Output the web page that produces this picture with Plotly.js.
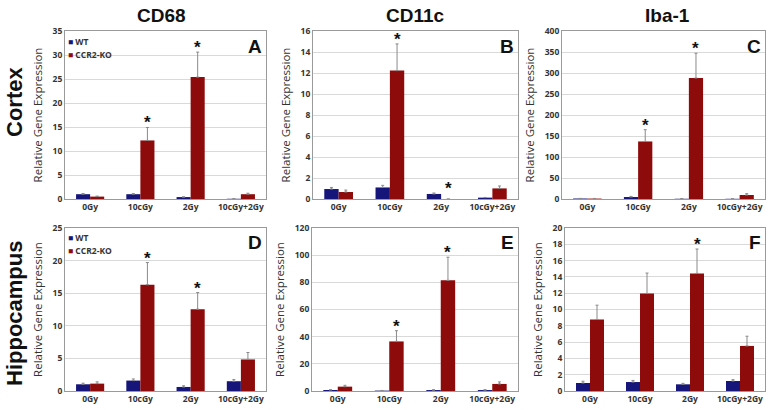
<!DOCTYPE html>
<html>
<head>
<meta charset="utf-8">
<script src="https://cdn.plot.ly/plotly-3.0.1.min.js"></script>
<style>
  html, body { margin: 0; padding: 0; background: #fff; }
  #chart { width: 772px; height: 410px; }
</style>
</head>
<body>
<div id="chart"></div>
<script>
// Dose groups on the x axis
const doses = ['0Gy', '10cGy', '2Gy', '10cGy+2Gy'];
const seriesNames = ['WT', 'CCR2-KO'];
const genes = ['CD68', 'CD11c', 'Iba-1'];
const regions = ['Cortex', 'Hippocampus'];
const panelLetters = ['A', 'B', 'C', 'D', 'E', 'F'];

// Cortex — mean relative expression and upper error (SEM)
const cd68CortexWT = [1.0, 1.0, 0.4, 0.05];
const cd68CortexWTErr = [0.15, 0.12, 0.05, 0.0];
const cd68CortexKO = [0.5, 12.2, 25.4, 1.0];
const cd68CortexKOErr = [0.1, 2.7, 5.2, 0.2];
const cd68CortexSig = [0, 1, 1, 0];

const cd11cCortexWT = [0.95, 1.1, 0.48, 0.13];
const cd11cCortexWTErr = [0.15, 0.2, 0.09, 0.02];
const cd11cCortexKO = [0.67, 12.23, 0.0, 1.01];
const cd11cCortexKOErr = [0.18, 2.54, 0.0, 0.23];
const cd11cCortexSig = [0, 1, 1, 0];

const iba1CortexWT = [1.2, 4.7, 0.6, 0.5];
const iba1CortexWTErr = [0.3, 1.5, 0.2, 0.2];
const iba1CortexKO = [1.0, 137, 288, 9.5];
const iba1CortexKOErr = [0.3, 28, 59, 3.2];
const iba1CortexSig = [0, 1, 1, 0];

// Hippocampus
const cd68HippoWT = [1.03, 1.6, 0.62, 1.5];
const cd68HippoWTErr = [0.17, 0.25, 0.18, 0.25];
const cd68HippoKO = [1.13, 16.3, 12.55, 4.84];
const cd68HippoKOErr = [0.27, 3.4, 2.55, 1.06];
const cd68HippoSig = [0, 1, 1, 0];

const cd11cHippoWT = [0.75, 0.3, 0.7, 0.7];
const cd11cHippoWTErr = [0.2, 0.1, 0.2, 0.2];
const cd11cHippoKO = [3.2, 36.5, 81.5, 5.2];
const cd11cHippoKOErr = [1.0, 7.9, 17.0, 1.5];
const cd11cHippoSig = [0, 1, 1, 0];

const iba1HippoWT = [0.98, 1.1, 0.82, 1.23];
const iba1HippoWTErr = [0.22, 0.2, 0.12, 0.16];
const iba1HippoKO = [8.77, 11.97, 14.43, 5.53];
const iba1HippoKOErr = [1.76, 2.5, 2.99, 1.19];
const iba1HippoSig = [0, 0, 1, 0];

// Axis ranges and tick steps per panel
const yMax = [35, 16, 400, 25, 120, 20];
const yStep = [5, 2, 50, 5, 20, 2];

const panels = [
  [cd68CortexWT, cd68CortexWTErr, cd68CortexKO, cd68CortexKOErr, cd68CortexSig],
  [cd11cCortexWT, cd11cCortexWTErr, cd11cCortexKO, cd11cCortexKOErr, cd11cCortexSig],
  [iba1CortexWT, iba1CortexWTErr, iba1CortexKO, iba1CortexKOErr, iba1CortexSig],
  [cd68HippoWT, cd68HippoWTErr, cd68HippoKO, cd68HippoKOErr, cd68HippoSig],
  [cd11cHippoWT, cd11cHippoWTErr, cd11cHippoKO, cd11cHippoKOErr, cd11cHippoSig],
  [iba1HippoWT, iba1HippoWTErr, iba1HippoKO, iba1HippoKOErr, iba1HippoSig]
];

// Plot-area boxes in pixels: [left, right, top, bottom]
const W = 772, H = 410;
const boxes = [
  [65, 266, 31, 199], [313, 518, 31, 199], [562, 765, 31, 199],
  [65, 266, 228, 391], [312, 518, 228, 391], [565, 765, 228, 391]
];

const WT_COLOR = '#15157a';
const KO_COLOR = '#8e0b0b';
const ERR_COLOR = '#8a8a8a';
const TXT = '#333333';
const tickFont = { family: 'Open Sans, Liberation Sans, sans-serif', size: 8.5, color: TXT, weight: 'bold' };

const traces = [];
const annotations = [];
const layout = {
  width: W, height: H,
  margin: { l: 0, r: 0, t: 0, b: 0 },
  paper_bgcolor: '#ffffff',
  plot_bgcolor: '#ffffff',
  showlegend: false,
  barmode: 'group',
  bargap: 0.44,
  bargroupgap: 0,
  annotations: annotations
};

panels.forEach((p, i) => {
  const [wt, wtErr, ko, koErr, sig] = p;
  const n = i + 1;
  const xa = n === 1 ? 'x' : 'x' + n;
  const ya = n === 1 ? 'y' : 'y' + n;
  const [l, r, t, b] = boxes[i];

  [[wt, wtErr, WT_COLOR, seriesNames[0]], [ko, koErr, KO_COLOR, seriesNames[1]]].forEach(([vals, errs, col, name]) => {
    traces.push({
      type: 'bar', x: doses, y: vals, name: name,
      xaxis: xa, yaxis: ya,
      marker: { color: col, line: { width: 0 } },
      error_y: { type: 'data', array: errs, arrayminus: errs.map(() => 0), symmetric: false,
                 color: ERR_COLOR, thickness: 1, width: 1.5 },
      hoverinfo: 'x+y'
    });
  });

  layout['xaxis' + (n === 1 ? '' : n)] = {
    domain: [l / W, r / W], anchor: ya,
    type: 'category', categoryorder: 'array', categoryarray: doses,
    showline: true, linecolor: '#9a9a9a', linewidth: 1, mirror: true,
    ticks: '', tickfont: tickFont, showgrid: false, fixedrange: true
  };
  layout['yaxis' + (n === 1 ? '' : n)] = {
    domain: [1 - b / H, 1 - t / H], anchor: xa,
    range: [0, yMax[i]], dtick: yStep[i], tick0: 0,
    showline: true, linecolor: '#9a9a9a', linewidth: 1, mirror: true,
    gridcolor: '#d9d9d9', gridwidth: 1, zeroline: false,
    ticks: '', tickfont: tickFont, ticklen: 0,
    title: { text: 'Relative Gene Expression', standoff: 7,
             font: { family: 'Open Sans, Noto Sans, sans-serif', size: 11.5, color: TXT } },
    fixedrange: true
  };

  // Significance asterisks above the CCR2-KO bar
  sig.forEach((s, k) => {
    if (!s) return;
    const top = Math.max(wt[k] + wtErr[k], ko[k] + koErr[k]);
    annotations.push({
      xref: xa, yref: ya, x: k + 0.14, y: top, text: '*',
      showarrow: false, xanchor: 'center', yanchor: 'bottom', yshift: -7,
      font: { family: 'Liberation Sans, Arial, sans-serif', size: 17, color: '#111', weight: 'bold' }
    });
  });

  // Panel letter
  annotations.push({
    xref: xa + ' domain', yref: ya + ' domain', x: 0.99, y: 0.985,
    text: panelLetters[i], showarrow: false, xanchor: 'right', yanchor: 'top',
    font: { family: 'Liberation Sans, Arial, sans-serif', size: 19, color: '#111', weight: 'bold' }
  });
});

// Legend inside the CD68 panels
[['x', 'y'], ['x4', 'y4']].forEach(([xa, ya]) => {
  [[seriesNames[0], WT_COLOR, 0.985], [seriesNames[1], KO_COLOR, 0.905]].forEach(([name, col, yy]) => {
    annotations.push({
      xref: xa + ' domain', yref: ya + ' domain', x: 0.005, y: yy,
      text: '<span style="color:' + col + '">■</span> ' + name,
      showarrow: false, xanchor: 'left', yanchor: 'top',
      font: { family: 'Open Sans, Liberation Sans, sans-serif', size: 8.5, color: TXT, weight: 'bold' }
    });
  });
});

// Column headings (genes)
const colCenters = [161, 415, 667];
genes.forEach((g, j) => {
  annotations.push({
    xref: 'paper', yref: 'paper', x: colCenters[j] / W, y: 1 - 15 / H,
    text: g, showarrow: false, xanchor: 'center', yanchor: 'middle',
    font: { family: 'Liberation Sans, Arial, sans-serif', size: 19, color: '#111', weight: 'bold' }
  });
});

// Row headings (brain regions)
const rowCenters = [102, 314];
regions.forEach((rg, j) => {
  annotations.push({
    xref: 'paper', yref: 'paper', x: 14 / W, y: 1 - rowCenters[j] / H,
    text: rg, showarrow: false, textangle: -90, xanchor: 'center', yanchor: 'middle',
    font: { family: 'Liberation Sans, Arial, sans-serif', size: 22, color: '#111', weight: 'bold' }
  });
});

Plotly.newPlot('chart', traces, layout, { displayModeBar: false, staticPlot: true });
</script>
</body>
</html>
